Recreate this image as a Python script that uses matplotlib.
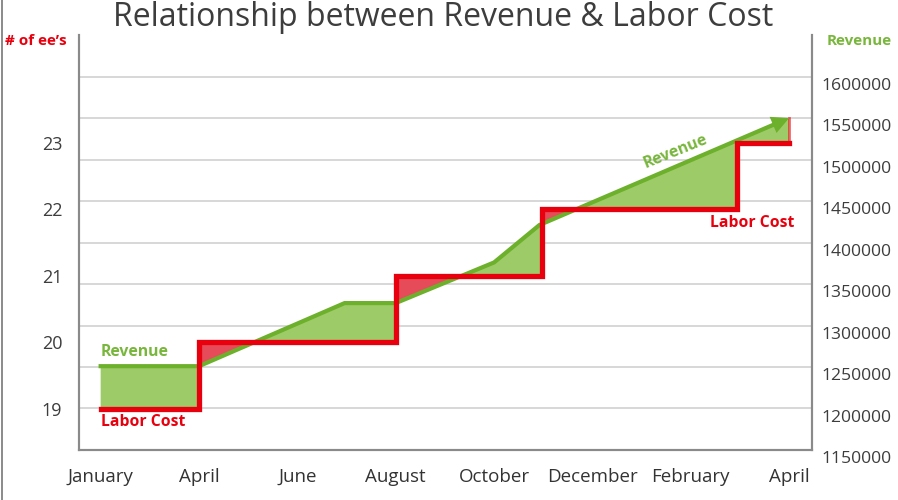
import numpy as np
import matplotlib
matplotlib.use("Agg")
import matplotlib.pyplot as plt
import matplotlib.transforms as mtrans

plt.rcParams['font.family'] = ['Open Sans', 'DejaVu Sans']

# x axis categories (evenly spaced ticks)
months = ['January', 'April', 'June', 'August', 'October', 'December', 'February', 'April']

# revenue line (x in tick index units)
rev_x = [0, 1, 2.48, 3, 4, 4.46, 7]
rev_vals = [1251000, 1251000, 1327000, 1327000, 1376000, 1421000, 1550000]

# labor cost steps (# of employees), step starts at each x
labor_x = [0, 1, 3, 4.49, 6.47, 7]
labor_ee = [19, 20, 21, 22, 23, 23]

rev_ticks = [1150000, 1200000, 1250000, 1300000, 1350000, 1400000,
             1450000, 1500000, 1550000, 1600000]
ee_ticks = [19, 20, 21, 22, 23]

GREEN = '#6cb02c'
GREEN_FILL = '#9dcb68'
GREEN_TXT = '#78b63c'
RED = '#e8000e'
RED_FILL = '#e64b5a'
GRAY = '#3d3d3d'

# how the two y axes line up: 19 employees sits on 1,200,000, one ee = 80,000
def ee_to_rev(e):
    return 1200000 + (np.asarray(e, dtype=float) - 19) * 80000

fig = plt.figure(figsize=(8.98, 5), dpi=100)
ax = fig.add_axes([0.088, 0.10, 0.816, 0.83])
ax2 = ax.twinx()
ax.set_zorder(ax2.get_zorder() + 1)
ax.patch.set_visible(False)

ax.set_xlim(-0.22, 7.23)
ax2.set_ylim(1150000, 1650000)
ax.set_ylim(18.375, 24.625)

# grid from the revenue scale
for v in rev_ticks[1:]:
    ax2.axhline(v, color='#d4d4d4', lw=1.3, zorder=0)

# fill between revenue and labor
xs = np.linspace(0, 7, 3001)
rev_line = np.interp(xs, rev_x, rev_vals)
idx = np.searchsorted(labor_x, xs, side='right') - 1
idx = np.clip(idx, 0, len(labor_ee) - 1)
lab_line = ee_to_rev(np.array(labor_ee)[idx])
ax2.fill_between(xs, lab_line, rev_line, where=rev_line >= lab_line,
                 interpolate=True, color=GREEN_FILL, lw=0, zorder=1)
ax2.fill_between(xs, lab_line, rev_line, where=rev_line < lab_line,
                 interpolate=True, color=RED_FILL, lw=0, zorder=1)

# revenue line with arrow head
cut = 0.08
end_y = rev_vals[-1] - cut / (rev_x[-1] - rev_x[-2]) * (rev_vals[-1] - rev_vals[-2])
ax2.plot(rev_x[:-1] + [rev_x[-1] - cut], rev_vals[:-1] + [end_y],
         color=GREEN, lw=3, solid_joinstyle='miter', zorder=3)
ax2.annotate('', xy=(rev_x[-1], rev_vals[-1]), xytext=(rev_x[-2], rev_vals[-2]),
             arrowprops=dict(arrowstyle='-|>,head_length=0.7,head_width=0.35',
                             color=GREEN, lw=0, mutation_scale=18, shrinkA=0, shrinkB=0),
             zorder=3)
# small red edge at the end
ax2.plot([labor_x[-1], labor_x[-1]], [ee_to_rev(labor_ee[-1]), rev_vals[-1]],
         color=RED, lw=2, alpha=0.6, zorder=2)

# labor cost step line
ax.step(labor_x, labor_ee, where='post', color=RED, lw=3.8,
        solid_joinstyle='miter', zorder=4)

# axes styling
for a in (ax, ax2):
    a.spines['top'].set_visible(False)
    for s in ('left', 'right', 'bottom'):
        a.spines[s].set_color('#8a8a8a')
        a.spines[s].set_linewidth(1.5)

ax.set_xticks(range(len(months)))
ax.set_xticklabels(months)
ax.set_yticks(ee_ticks)
ax2.set_yticks(rev_ticks)
ax2.set_yticklabels([str(v) for v in rev_ticks])
ax.tick_params(axis='x', length=0, pad=13, labelsize=13.5, labelcolor='#333333')
ax.tick_params(axis='y', length=0, pad=12, labelsize=13, labelcolor=GRAY)
ax2.tick_params(axis='y', length=0, pad=7, labelsize=12.6, labelcolor=GRAY)
shift = mtrans.ScaledTranslation(0, -7 / 100, fig.dpi_scale_trans)
for lab in ax2.get_yticklabels():
    lab.set_transform(lab.get_transform() + shift)

# labels on the chart
ax2.text(0, 1268000, 'Revenue', color=GREEN_TXT, fontsize=11.3, fontweight='bold',
         ha='left', va='center')
ax2.text(0, 1184000, 'Labor Cost', color=RED, fontsize=11.3, fontweight='bold',
         ha='left', va='center')
ax2.text(5.85, 1510000, 'Revenue', color=GREEN_TXT, fontsize=11.3, fontweight='bold',
         ha='center', va='center', rotation=22)
ax2.text(6.62, 1424000, 'Labor Cost', color=RED, fontsize=11.3, fontweight='bold',
         ha='center', va='center')

fig.text(0.040, 0.918, '# of ee\u2019s', color=RED, fontsize=11, fontweight='bold',
         ha='center', va='center')
fig.text(0.957, 0.918, 'Revenue', color=GREEN_TXT, fontsize=11, fontweight='bold',
         ha='center', va='center')
fig.text(0.494, 0.964, 'Relationship between Revenue & Labor Cost', color=GRAY,
         fontsize=23, ha='center', va='center')

# outer border line on the left edge
fig.add_artist(plt.Line2D([0.002, 0.002], [0, 1], color='#777777', lw=1.2,
                          transform=fig.transFigure))

fig.savefig('out.png', dpi=100)
